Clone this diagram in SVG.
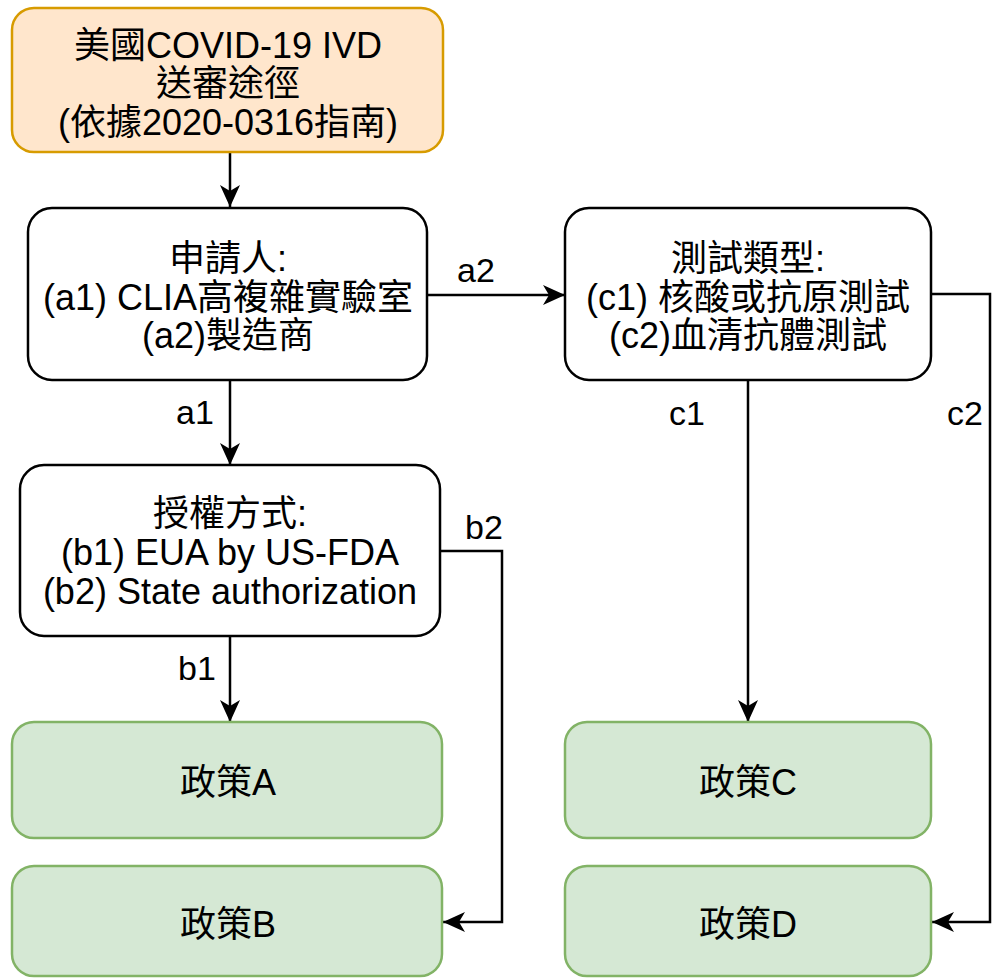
<svg xmlns="http://www.w3.org/2000/svg" width="994" height="978" viewBox="0 0 994 978">
<defs>
<style>
.box{fill:#ffffff;stroke:#000000;stroke-width:2.5}
.start{fill:#ffe6cc;stroke:#d79b00;stroke-width:2.5}
.pol{fill:#d5e8d4;stroke:#82b366;stroke-width:2.5}
.t{font-family:"Liberation Sans","Noto Sans CJK TC",sans-serif;font-size:36px;fill:#000;text-anchor:middle}
.lbl{font-family:"Liberation Sans","Noto Sans CJK TC",sans-serif;font-size:34px;fill:#000;text-anchor:middle}
.edge{fill:none;stroke:#000;stroke-width:2.5;marker-end:url(#arr)}
</style>
<marker id="arr" markerUnits="userSpaceOnUse" viewBox="0 0 22 20" refX="22" refY="10" markerWidth="22" markerHeight="20" orient="auto">
<path d="M0,0 L22,10 L0,20 L6,10 Z" fill="#000"/>
</marker>
</defs>
<rect width="994" height="978" fill="#ffffff"/>
<g id="connectors">
<path class="edge" d="M230,152 L230,207"/>
<path class="edge" d="M230,380 L230,465"/>
<path class="edge" d="M230,636 L230,722"/>
<path class="edge" d="M427,295 L565,295"/>
<path class="edge" d="M748,380 L748,722"/>
<path class="edge" d="M440,551 L502,551 L502,922 L443,922"/>
<path class="edge" d="M931,294 L990,294 L990,922 L932,922"/>
<text class="lbl" x="476" y="282">a2</text>
<text class="lbl" x="195" y="424">a1</text>
<text class="lbl" x="197" y="680">b1</text>
<text class="lbl" x="484" y="539">b2</text>
<text class="lbl" x="687" y="425">c1</text>
<text class="lbl" x="965" y="425">c2</text>
</g>
<g id="start">
<rect class="start" x="12" y="8" width="431" height="144" rx="22"/>
<text class="t" x="228" y="58">美國COVID-19 IVD</text>
<text class="t" x="228" y="96">送審途徑</text>
<text class="t" x="228" y="135">(依據2020-0316指南)</text>
</g>
<g id="applicant">
<rect class="box" x="28" y="208" width="399" height="172" rx="24"/>
<text class="t" x="228" y="271">申請人:</text>
<text class="t" x="228" y="310">(a1) CLIA高複雜實驗室</text>
<text class="t" x="228" y="348">(a2)製造商</text>
</g>
<g id="testtype">
<rect class="box" x="565" y="208" width="366" height="172" rx="24"/>
<text class="t" x="748" y="271">測試類型:</text>
<text class="t" x="748" y="310">(c1) 核酸或抗原測試</text>
<text class="t" x="748" y="348">(c2)血清抗體測試</text>
</g>
<g id="authorization">
<rect class="box" x="20" y="465" width="420" height="171" rx="24"/>
<text class="t" x="230" y="526">授權方式:</text>
<text class="t" x="230" y="565">(b1) EUA by US-FDA</text>
<text class="t" x="230" y="604">(b2) State authorization</text>
</g>
<g id="policyA">
<rect class="pol" x="12" y="722" width="430" height="116" rx="22"/>
<text class="t" x="228" y="795">政策A</text>
</g>
<g id="policyB">
<rect class="pol" x="12" y="866" width="430" height="110" rx="22"/>
<text class="t" x="228" y="937">政策B</text>
</g>
<g id="policyC">
<rect class="pol" x="565" y="722" width="366" height="116" rx="22"/>
<text class="t" x="748" y="795">政策C</text>
</g>
<g id="policyD">
<rect class="pol" x="565" y="866" width="366" height="110" rx="22"/>
<text class="t" x="748" y="937">政策D</text>
</g>
</svg>
